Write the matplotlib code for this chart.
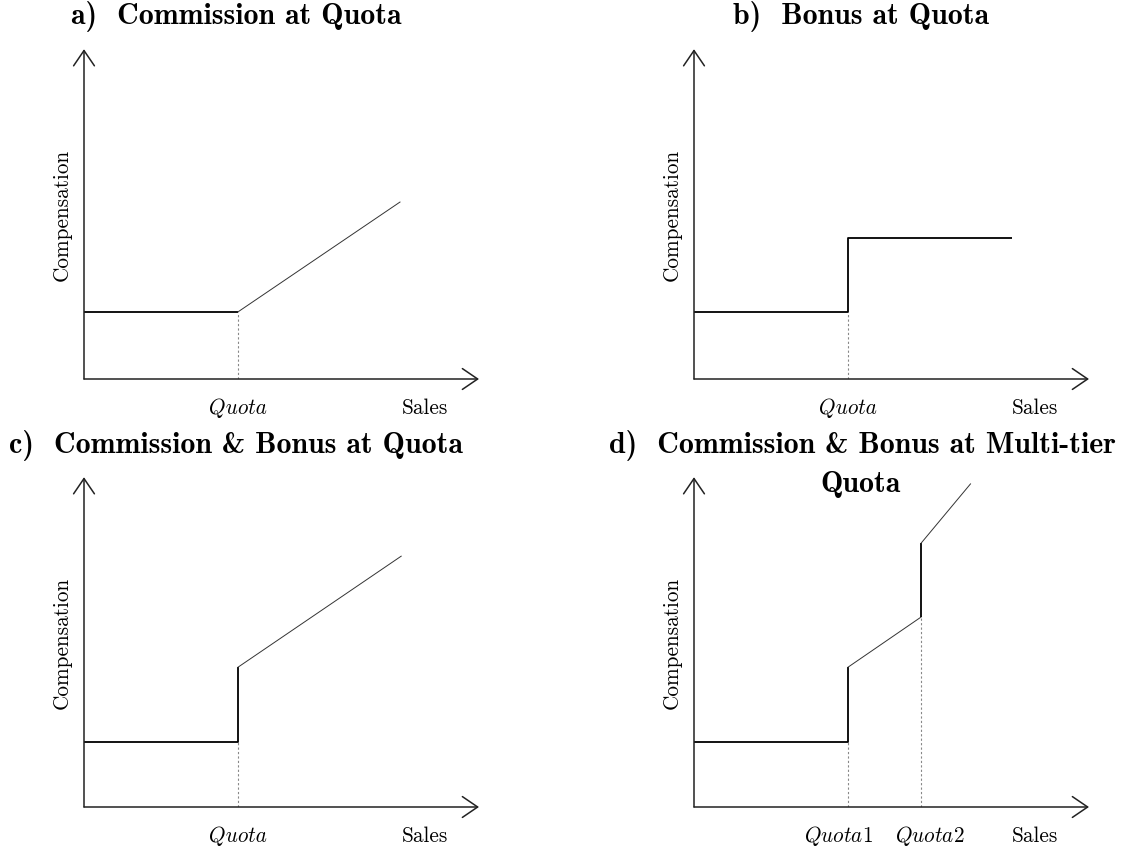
import matplotlib
matplotlib.use("Agg")
import matplotlib.pyplot as plt

plt.rcParams["mathtext.fontset"] = "cm"

# ---------------- data (in axis units, origin at axis corner) ----------------
titles_row1 = ["a)  Commission at Quota", "b)  Bonus at Quota"]
titles_row2 = ["c)  Commission & Bonus at Quota", "d)  Commission & Bonus at Multi-tier", "Quota"]
x_label = "Sales"
y_label = "Compensation"
quota_labels = ["Quota", r"$Quota1$", r"$Quota2$"]

quota = 3.9
quota2 = 5.75

# panel a: commission at quota
a_base = 1.70
a_end = (8.0, 4.48)
# panel b: bonus at quota
b_base = 1.70
b_bonus = 3.57
b_end_x = 8.05
# panel c: commission & bonus at quota
c_base = 1.65
c_jump = 3.54
c_end = (8.03, 6.35)
# panel d: multi-tier
d_base = 1.65
d_jump1 = 3.54
d_mid = 4.81
d_jump2 = 6.68
d_end = (7.0, 8.18)

X_MAX = 10.0
Y_MAX = 8.35

W, H = 1122, 854
fig = plt.figure(figsize=(W / 100, H / 100), dpi=100)

UNIT = 39.5  # px per axis unit
LBL = 15.3


def make_axes(ox, oy):
    ax = fig.add_axes([ox / W, (H - oy) / H, X_MAX * UNIT / W, Y_MAX * UNIT / H])
    ax.set_xlim(0, X_MAX)
    ax.set_ylim(0, Y_MAX)
    ax.set_axis_off()
    arrow = dict(arrowstyle="->,head_length=1.1,head_width=0.75", color="#222222",
                 lw=1.1, shrinkA=0, shrinkB=0, mutation_scale=10)
    ax.annotate("", xy=(X_MAX, 0), xytext=(0, 0), arrowprops=arrow, annotation_clip=False)
    ax.annotate("", xy=(0, Y_MAX), xytext=(0, 0), arrowprops=arrow, annotation_clip=False)
    ax.text(-0.56, Y_MAX / 2, y_label, rotation=90, ha="center", va="center",
            family="cmr10", fontsize=LBL)
    ax.text(8.63, -0.72, x_label, ha="center", va="center", family="cmr10", fontsize=LBL)
    return ax


THICK = dict(color="black", lw=1.3, solid_capstyle="butt")
THIN = dict(color="#333333", lw=0.7)
DASH = dict(color="#888888", lw=0.8, dashes=(2, 2))
ITAL = dict(family="cmmi10", fontsize=LBL, ha="center", va="center")
ITAL_M = dict(fontsize=LBL, ha="center", va="center")

# ---- a ----
ax = make_axes(84, 380)
ax.plot([0, quota], [a_base, a_base], **THICK)
ax.plot([quota, a_end[0]], [a_base, a_end[1]], **THIN)
ax.plot([quota, quota], [0, a_base], **DASH)
ax.text(quota, -0.72, quota_labels[0], **ITAL)

# ---- b ----
ax = make_axes(694, 380)
ax.plot([0, quota, quota, b_end_x], [b_base, b_base, b_bonus, b_bonus], **THICK)
ax.plot([quota, quota], [0, b_base], **DASH)
ax.text(quota, -0.72, quota_labels[0], **ITAL)

# ---- c ----
ax = make_axes(84, 808)
ax.plot([0, quota, quota], [c_base, c_base, c_jump], **THICK)
ax.plot([quota, c_end[0]], [c_jump, c_end[1]], **THIN)
ax.plot([quota, quota], [0, c_base], **DASH)
ax.text(quota, -0.72, quota_labels[0], **ITAL)

# ---- d ----
ax = make_axes(694, 808)
ax.plot([0, quota, quota], [d_base, d_base, d_jump1], **THICK)
ax.plot([quota, quota2], [d_jump1, d_mid], **THIN)
ax.plot([quota2, quota2], [d_mid, d_jump2], **THICK)
ax.plot([quota2, d_end[0]], [d_jump2, d_end[1]], **THIN)
ax.plot([quota, quota], [0, d_base], **DASH)
ax.plot([quota2, quota2], [0, d_mid], **DASH)
ax.text(quota - 0.25, -0.72, quota_labels[1], **ITAL_M)
ax.text(quota2 + 0.22, -0.72, quota_labels[2], **ITAL_M)

# ---- titles ----
TB = dict(family="cmb10", fontsize=21.5, ha="center", va="center")
fig.text(236 / W, 1 - 17 / H, titles_row1[0], **TB)
fig.text(861 / W, 1 - 17 / H, titles_row1[1], **TB)
fig.text(236 / W, 1 - 446 / H, titles_row2[0], **TB)
fig.text(862 / W, 1 - 446 / H, titles_row2[1], **TB)
fig.text(861 / W, 1 - 485 / H, titles_row2[2], **TB)

fig.savefig("out.png", dpi=100)
